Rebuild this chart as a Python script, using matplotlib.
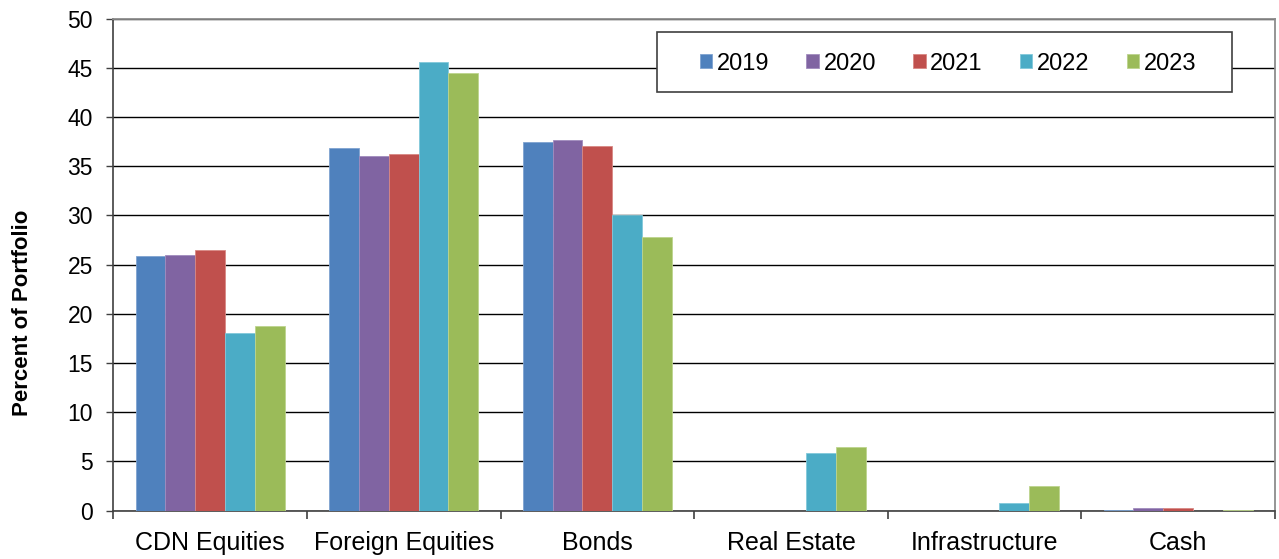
import matplotlib
matplotlib.use("Agg")
import matplotlib.pyplot as plt
import numpy as np
from matplotlib.patches import Rectangle

categories = ["CDN Equities", "Foreign Equities", "Bonds", "Real Estate", "Infrastructure", "Cash"]
years = ["2019", "2020", "2021", "2022", "2023"]
v2019 = [25.9, 36.8, 37.4, 0.0, 0.0, 0.1]
v2020 = [26.0, 36.0, 37.7, 0.0, 0.0, 0.3]
v2021 = [26.5, 36.2, 37.0, 0.0, 0.0, 0.3]
v2022 = [18.0, 45.6, 30.0, 5.8, 0.8, 0.0]
v2023 = [18.7, 44.5, 27.8, 6.5, 2.5, 0.05]
series = [v2019, v2020, v2021, v2022, v2023]
colors = ["#4F81BD", "#8064A2", "#C0504D", "#4BACC6", "#9BBB59"]
edges = ["#7FA3D0", "#A08BBE", "#D88884", "#82C8DA", "#BDD48E"]

plt.rcParams['font.family'] = ['Liberation Sans', 'DejaVu Sans']

W, H = 1279, 559
fig = plt.figure(figsize=(W / 100, H / 100), dpi=100)
left, right, top, bottom = 113.3, 1275, 18.5, 510.5
ax = fig.add_axes([left / W, 1 - bottom / H, (right - left) / W, (bottom - top) / H])

x = np.arange(len(categories))
bw = 0.154
for i, (vals, c, ec) in enumerate(zip(series, colors, edges)):
    ax.bar(x + (i - 2) * bw, vals, width=bw, color=c, edgecolor=ec, linewidth=0.6,
           label=years[i], zorder=3)

ax.set_xlim(-0.5, len(categories) - 0.5)
ax.set_ylim(0, 50)
ax.set_yticks(np.arange(0, 51, 5))
ax.yaxis.grid(True, color="black", linewidth=1.0, zorder=1)
ax.set_axisbelow(True)

ax.set_xticks(x)
ax.set_xticklabels(categories, fontsize=18)
ax.set_xticks(np.arange(-0.5, len(categories), 1.0), minor=True)
ax.tick_params(axis="x", which="major", length=0, pad=14.5)
ax.tick_params(axis="x", which="minor", length=5.5, width=1.2, color="#404040", direction="out")
ax.tick_params(axis="y", length=4.7, width=1.0, color="#404040", direction="out",
               labelsize=16.5, pad=10.0)

for s in ["top", "right"]:
    ax.spines[s].set_color("#8c8c8c")
    ax.spines[s].set_linewidth(1.3)
ax.spines["left"].set_color("#404040")
ax.spines["left"].set_linewidth(1.2)
ax.spines["bottom"].set_color("#404040")
ax.spines["bottom"].set_linewidth(1.2)

fig.text(23 / W, 1 - 312.5 / H, "Percent of Portfolio", rotation=90, ha="center", va="center",
         fontsize=16, fontweight="bold")

# legend frame
bx0, bx1, by0, by1 = 656.5, 1231.5, 32, 92
fig.patches.append(Rectangle((bx0 / W, 1 - by1 / H), (bx1 - bx0) / W, (by1 - by0) / H,
                             transform=fig.transFigure, facecolor="white",
                             edgecolor="#404040", linewidth=1.2, zorder=5))
leg = fig.legend(loc="center", bbox_to_anchor=((bx0 + bx1 + 8) / 2 / W, 1 - (by0 + by1 + 3) / 2 / H),
                 ncol=5, frameon=False, fontsize=17, handlelength=0.52, handleheight=0.52,
                 handletextpad=0.2, columnspacing=1.58, borderpad=0)
leg.set_zorder(6)

fig.savefig("out.png", dpi=100)
